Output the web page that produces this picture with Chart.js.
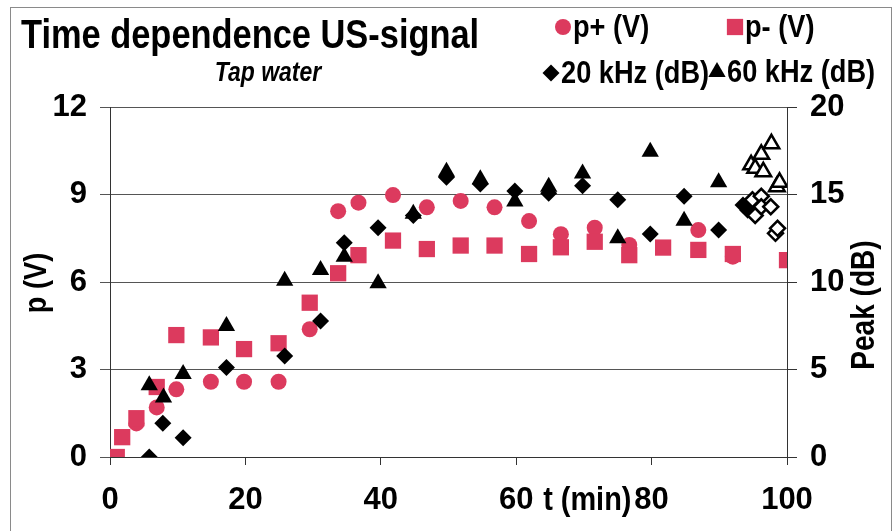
<!DOCTYPE html>
<html>
<head>
<meta charset="utf-8">
<script src="https://cdn.jsdelivr.net/npm/chart.js@4.4.1/dist/chart.umd.min.js"></script>
<style>
  html, body { margin: 0; padding: 0; background: #fff; }
  #wrap { width: 895px; height: 531px; position: relative; }
</style>
</head>
<body>
<div id="wrap"><canvas id="usChart"></canvas></div>
<script>
// Time dependence of the US signal in tap water
// t in minutes, p in volts (left axis), peaks in dB (right axis)
const tPlus  = [3.9, 6.9, 9.8, 14.9, 19.8, 24.9, 29.5, 33.7, 36.7, 41.8, 46.8, 51.8, 56.8, 61.9, 66.6, 71.6, 76.7, 86.9, 92.0];
const pPlus  = [1.15, 1.7, 2.32, 2.58, 2.58, 2.58, 4.38, 8.43, 8.72, 8.98, 8.56, 8.78, 8.56, 8.09, 7.64, 7.86, 7.27, 7.78, 6.87];

const tMinus = [1.0, 1.8, 3.9, 6.9, 9.8, 14.9, 19.8, 24.9, 29.5, 33.7, 36.7, 41.8, 46.8, 51.8, 56.8, 61.9, 66.6, 71.6, 76.7, 81.7, 86.9, 92.0, 100.0];
const pMinus = [0.0, 0.68, 1.33, 2.4, 4.18, 4.1, 3.7, 3.9, 5.29, 6.3, 6.92, 7.42, 7.13, 7.25, 7.25, 6.96, 7.19, 7.38, 6.92, 7.18, 7.1, 6.96, 6.75];

const t20  = [5.8, 7.8, 10.8, 17.2, 25.8, 31.1, 34.6, 39.6, 44.8, 49.7, 54.7, 59.8, 64.8, 69.8, 75.0, 79.8, 84.8, 89.9, 93.5, 94.2];
const db20 = [0.0, 1.93, 1.1, 5.12, 5.77, 7.77, 12.25, 13.1, 13.8, 15.98, 15.6, 15.2, 15.07, 15.5, 14.7, 12.74, 14.9, 12.97, 14.4, 14.1];

const t60  = [5.8, 7.9, 10.8, 17.2, 25.8, 31.1, 34.6, 39.6, 44.8, 49.7, 54.7, 59.8, 64.8, 69.8, 75.0, 79.8, 84.8, 89.9];
const db60 = [4.1, 3.4, 4.74, 7.49, 10.07, 10.69, 11.45, 9.93, 13.9, 16.3, 15.87, 14.6, 15.45, 16.2, 12.5, 17.45, 13.5, 15.7];

// last readings, drawn as open markers
const t20open  = [94.9, 95.3, 96.2, 96.2, 97.6, 98.3, 98.6];
const db20open = [14.7, 13.8, 14.9, 14.3, 14.3, 12.78, 13.07];
const t60open  = [94.7, 95.3, 96.2, 96.5, 97.7, 98.5, 98.9];
const db60open = [16.7, 16.5, 17.3, 16.3, 17.9, 15.45, 15.7];

const pTicks  = [0, 3, 6, 9, 12];
const dbTicks = [0, 5, 10, 15, 20];
const tTicks  = [0, 20, 40, 60, 80, 100];

const titleText = 'Time dependence US-signal';
const subtitleText = 'Tap water';
const xTitle = 't (min)';
const leftTitle = 'p (V)';
const rightTitle = 'Peak (dB)';

const FONT = "'Liberation Sans', Arial, Helvetica, sans-serif";
const RED = '#dc3a5e';

const pts = (xs, ys) => xs.map((x, i) => ({ x: x, y: ys[i] }));

// narrow-looking text: squeeze along the writing direction
function squeezedText(ctx, text, x, y, font, sx, align, angle) {
  ctx.save();
  ctx.translate(x, y);
  if (angle) ctx.rotate(angle);
  ctx.scale(sx, 1);
  ctx.font = font;
  ctx.textAlign = align;
  ctx.textBaseline = 'middle';
  ctx.fillText(text, 0, 0);
  ctx.restore();
}

const decorations = {
  id: 'decorations',
  beforeDraw(chart) {
    const ctx = chart.ctx;
    ctx.save();
    ctx.fillStyle = '#fff';
    ctx.fillRect(0, 0, chart.width, chart.height);
    ctx.strokeStyle = '#8a8a8a';
    ctx.lineWidth = 1;
    ctx.strokeRect(10.5, 7.5, 881, 540);
    ctx.restore();
  },
  afterDraw(chart) {
    const ctx = chart.ctx;
    ctx.save();
    ctx.fillStyle = '#000';

    squeezedText(ctx, titleText, 21, 37, 'bold 40px ' + FONT, 0.86, 'left');
    squeezedText(ctx, subtitleText, 268, 73, 'italic bold 28px ' + FONT, 0.82, 'center');

    // both axis titles read upwards
    squeezedText(ctx, leftTitle, 37, 283, 'bold 32px ' + FONT, 0.85, 'center', -Math.PI / 2);
    squeezedText(ctx, rightTitle, 865, 305, 'bold 33px ' + FONT, 0.85, 'center', -Math.PI / 2);

    // x title sits in the tick label row, between 60 and 80
    squeezedText(ctx, xTitle, chart.scales.x.getPixelForValue(70.5), 501, 'bold 34px ' + FONT, 0.85, 'center');

    // legend, two rows of two
    const slots = [[563, 27], [735, 27], [551, 73], [717, 72]];
    slots.forEach(([lx, ly], i) => {
      const ds = chart.data.datasets[i];
      ctx.fillStyle = ds.pointBackgroundColor;
      ctx.strokeStyle = ds.pointBorderColor;
      Chart.helpers.drawPoint(ctx, {
        pointStyle: ds.pointStyle, radius: ds.pointRadius, rotation: 0, borderWidth: ds.pointBorderWidth
      }, lx, ly);
      ctx.fillStyle = '#000';
      squeezedText(ctx, ds.label, lx + 10, ly + 1, 'bold 32px ' + FONT, 0.85, 'left');
    });
    ctx.restore();
  }
};

const tickFont = { family: FONT, size: 31, weight: 'bold' };

new Chart(document.getElementById('usChart'), {
  type: 'scatter',
  data: {
    datasets: [
      {
        label: 'p+ (V)', data: pts(tPlus, pPlus), yAxisID: 'y', order: 6,
        pointStyle: 'circle', pointRadius: 8, pointBackgroundColor: RED, pointBorderColor: RED, pointBorderWidth: 0
      },
      {
        label: 'p- (V)', data: pts(tMinus, pMinus), yAxisID: 'y', order: 5,
        pointStyle: 'rect', pointRadius: 11.5, pointBackgroundColor: RED, pointBorderColor: RED, pointBorderWidth: 0
      },
      {
        label: '20 kHz (dB)', data: pts(t20, db20), yAxisID: 'y1', order: 4,
        pointStyle: 'rectRot', pointRadius: 8.5, pointBackgroundColor: '#000', pointBorderColor: '#000', pointBorderWidth: 0
      },
      {
        label: '60 kHz (dB)', data: pts(t60, db60), yAxisID: 'y1', order: 3,
        pointStyle: 'triangle', pointRadius: 10, pointBackgroundColor: '#000', pointBorderColor: '#000', pointBorderWidth: 0
      },
      {
        label: '20 kHz (dB) end', data: pts(t20open, db20open), yAxisID: 'y1', order: 2,
        pointStyle: 'rectRot', pointRadius: 7.5, pointBackgroundColor: '#fff', pointBorderColor: '#000', pointBorderWidth: 2.5
      },
      {
        label: '60 kHz (dB) end', data: pts(t60open, db60open), yAxisID: 'y1', order: 1,
        pointStyle: 'triangle', pointRadius: 9, pointBackgroundColor: '#fff', pointBorderColor: '#000', pointBorderWidth: 2.5
      }
    ]
  },
  options: {
    responsive: true,
    maintainAspectRatio: false,
    animation: false,
    events: [],
    layout: { padding: { top: 107, left: 0, right: 0, bottom: 0 } },
    plugins: {
      legend: { display: false },
      title: { display: false },
      tooltip: { enabled: false }
    },
    scales: {
      x: {
        type: 'linear', min: 0, max: 100,
        afterBuildTicks: s => { s.ticks = tTicks.map(v => ({ value: v })); },
        afterFit: s => { s.height = 74; },
        ticks: { font: tickFont, color: '#000', padding: 17, maxRotation: 0, autoSkip: false },
        grid: { drawOnChartArea: false, drawTicks: true, tickLength: 8, color: '#333' },
        border: { color: '#333', width: 1 }
      },
      y: {
        position: 'left', min: 0, max: 12,
        afterBuildTicks: s => { s.ticks = pTicks.map(v => ({ value: v })); },
        afterFit: s => { s.width = 110; },
        ticks: { font: tickFont, color: '#000', padding: 13 },
        grid: { color: '#555', tickLength: 10 },
        border: { color: '#333', width: 1 }
      },
      y1: {
        position: 'right', min: 0, max: 20,
        afterBuildTicks: s => { s.ticks = dbTicks.map(v => ({ value: v })); },
        afterFit: s => { s.width = 108; },
        ticks: { font: tickFont, color: '#000', padding: 13 },
        grid: { drawOnChartArea: false, color: '#333', tickLength: 10 },
        border: { color: '#333', width: 1 }
      }
    }
  },
  plugins: [decorations]
});
</script>
</body>
</html>
